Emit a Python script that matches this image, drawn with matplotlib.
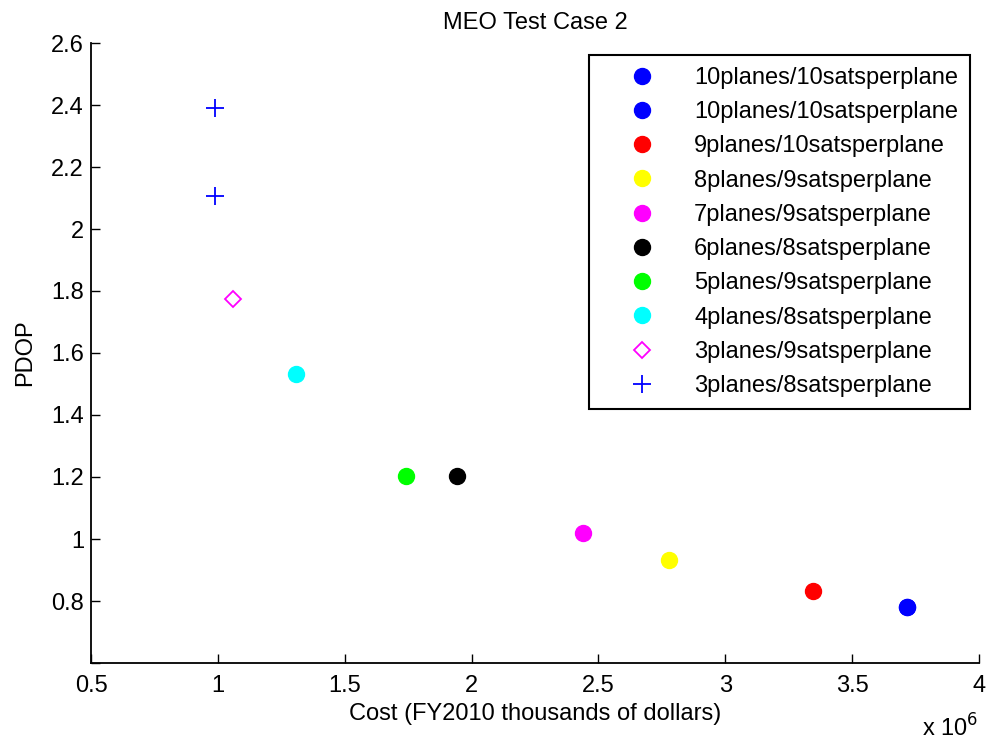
import matplotlib
matplotlib.use("Agg")
import matplotlib.pyplot as plt
from matplotlib.ticker import FuncFormatter, MultipleLocator

plt.rcParams['font.family'] = ['Liberation Sans', 'DejaVu Sans']
plt.rcParams['xtick.direction'] = 'in'
plt.rcParams['ytick.direction'] = 'in'

FS = 17

# Constellation options: cost (FY2010 thousands of dollars) and PDOP
labels = [
    "10planes/10satsperplane",
    "10planes/10satsperplane",
    "9planes/10satsperplane",
    "8planes/9satsperplane",
    "7planes/9satsperplane",
    "6planes/8satsperplane",
    "5planes/9satsperplane",
    "4planes/8satsperplane",
    "3planes/9satsperplane",
    "3planes/8satsperplane",
]
cost = [
    [3.716e6],
    [3.716e6],
    [3.346e6],
    [2.778e6],
    [2.439e6],
    [1.943e6],
    [1.742e6],
    [1.308e6],
    [1.060e6],
    [0.989e6, 0.989e6],
]
pdop = [
    [0.781],
    [0.781],
    [0.832],
    [0.932],
    [1.019],
    [1.203],
    [1.203],
    [1.532],
    [1.774],
    [2.390, 2.108],
]
colors = ["#0000ff", "#0000ff", "#ff0000", "#ffff00", "#ff00ff",
          "#000000", "#00ff00", "#00ffff", "#ff00ff", "#0000ff"]
markers = ["o", "o", "o", "o", "o", "o", "o", "o", "D", "+"]

fig = plt.figure(figsize=(9.9, 7.45), dpi=100)
ax = fig.add_axes([91 / 990, 1 - 663 / 745, (979 - 91) / 990, (663 - 43) / 745])

for lab, xs, ys, c, m in zip(labels, cost, pdop, colors, markers):
    if m == "o":
        ax.plot(xs, ys, linestyle="none", marker="o", ms=11.5,
                mfc=c, mec=c, label=lab)
    elif m == "D":
        ax.plot(xs, ys, linestyle="none", marker="D", ms=8.5,
                mfc="none", mec=c, mew=1.3, label=lab)
    else:
        ax.plot(xs, ys, linestyle="none", marker="+", ms=13,
                mec=c, mew=1.3, label=lab)

ax.set_xlim(0.5e6, 4.0e6)
ax.set_ylim(0.6, 2.6)
ax.xaxis.set_major_locator(MultipleLocator(0.5e6))
ax.yaxis.set_major_locator(MultipleLocator(0.2))
ax.xaxis.set_major_formatter(FuncFormatter(lambda v, p: f"{v / 1e6:g}"))
ax.yaxis.set_major_formatter(FuncFormatter(lambda v, p: "" if v < 0.7 else f"{v:g}"))

for s in ("top", "right"):
    ax.spines[s].set_visible(False)
for s in ("left", "bottom"):
    ax.spines[s].set_linewidth(1.3)
ax.tick_params(axis="both", which="major", direction="in", length=6.5,
               width=1.0, labelsize=FS)
ax.tick_params(axis="x", pad=9)
ax.tick_params(axis="y", pad=5)

ax.set_title("MEO Test Case 2", fontsize=FS, pad=10)
ax.set_xlabel("Cost (FY2010 thousands of dollars)", fontsize=FS, labelpad=4)
ax.set_ylabel("PDOP", fontsize=FS, labelpad=11)
fig.text(922 / 990, 1 - 737 / 745, r"x 10$^{6}$", fontsize=FS,
         ha="left", va="baseline")

leg = ax.legend(loc="upper right", bbox_to_anchor=(970 / 990, 1 - 55 / 745),
                bbox_transform=fig.transFigure, fontsize=FS, frameon=True,
                fancybox=False, edgecolor="black", framealpha=1,
                handlelength=3.5, handletextpad=0.46, borderpad=0.5,
                labelspacing=0.52, borderaxespad=0, numpoints=1)
leg.get_frame().set_linewidth(1.5)

fig.savefig("out.png", dpi=100)
